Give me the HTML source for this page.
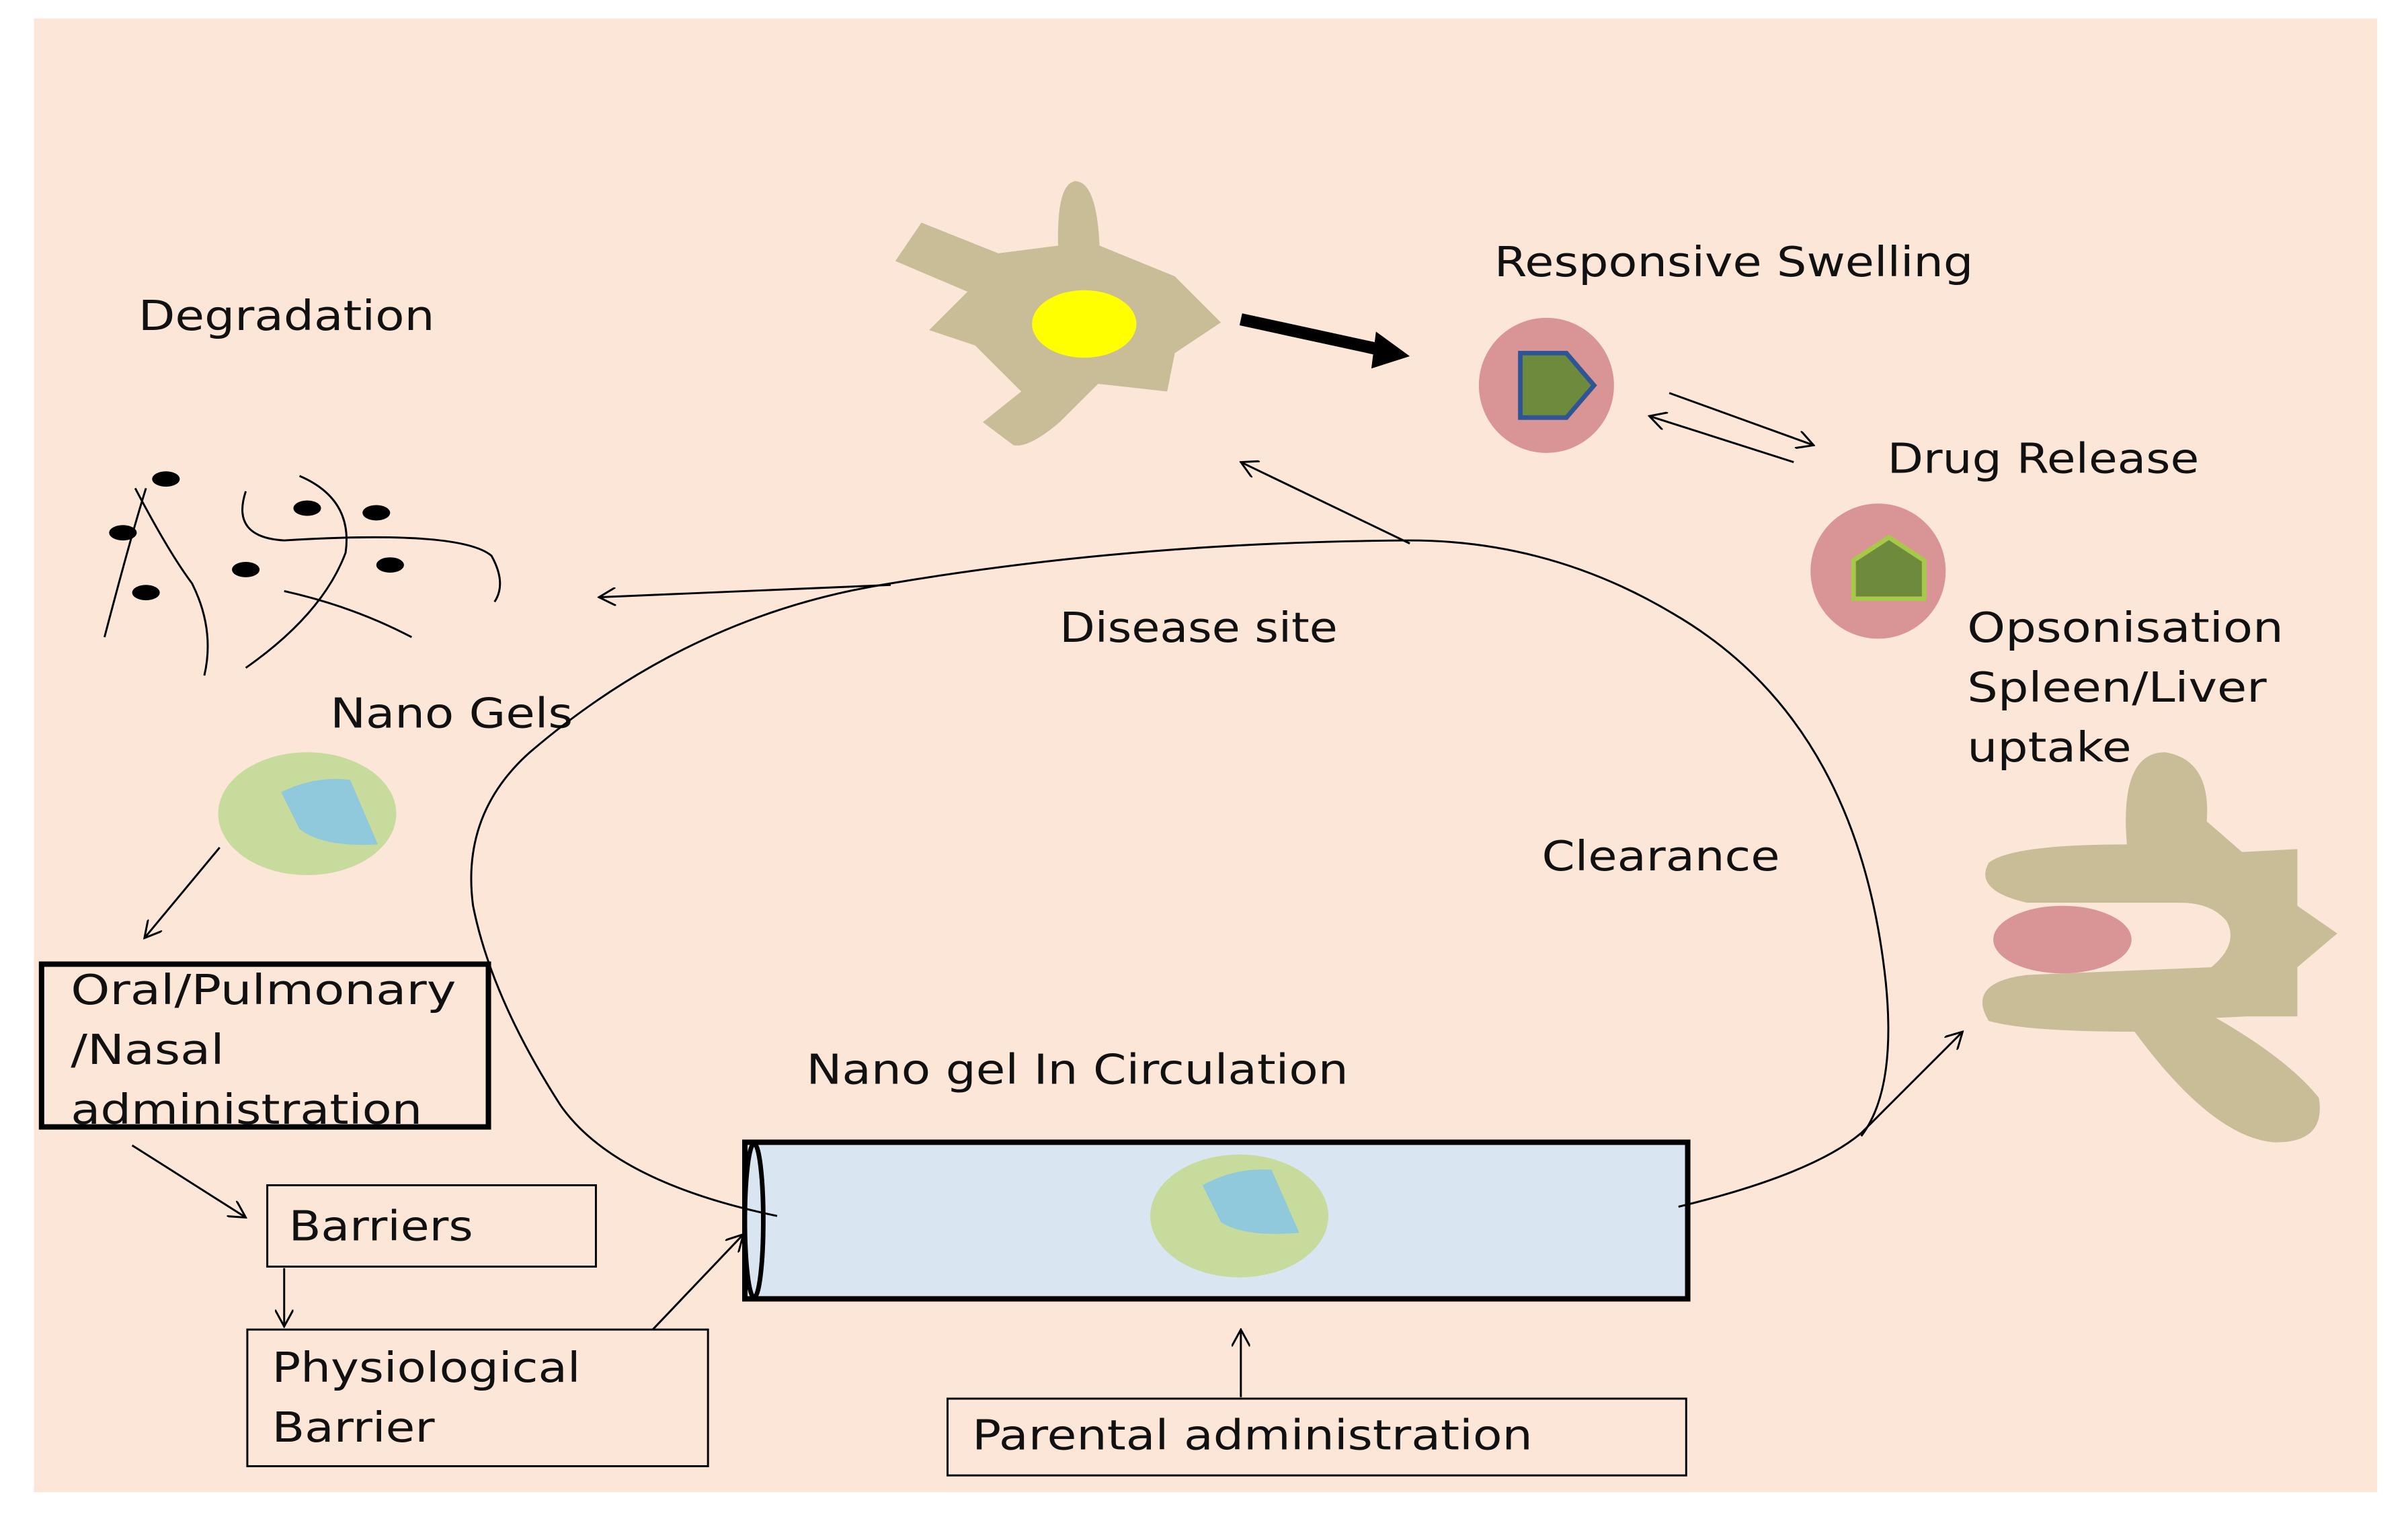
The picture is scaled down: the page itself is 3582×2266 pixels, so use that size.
<!DOCTYPE html>
<html><head><style>html,body{margin:0;padding:0;background:#fff}svg{display:block}</style></head>
<body>
<svg width="3582" height="2266" viewBox="0 0 1568 992" xmlns="http://www.w3.org/2000/svg" font-family="'DejaVu Sans', 'Liberation Sans', sans-serif">
<defs>
<marker id="a" viewBox="0 0 12 12" refX="11" refY="6" markerWidth="12" markerHeight="12" orient="auto" markerUnits="userSpaceOnUse"><path d="M0,0 L11,6 L0,12" fill="none" stroke="#000" stroke-width="1.3"/></marker>
</defs>
<rect x="0" y="0" width="1568" height="992" fill="#fff"/>
<rect x="22" y="12" width="1526" height="960" fill="#fce6d8"/>
<g font-size="27" fill="#111" lengthAdjust="spacingAndGlyphs">
<text x="90" y="215" textLength="193" lengthAdjust="spacingAndGlyphs">Degradation</text>
<text x="973" y="180" textLength="312" lengthAdjust="spacingAndGlyphs">Responsive Swelling</text>
<text x="1229" y="308" textLength="203" lengthAdjust="spacingAndGlyphs">Drug Release</text>
<text x="690" y="418" textLength="181" lengthAdjust="spacingAndGlyphs">Disease site</text>
<text x="1281" y="418" textLength="206" lengthAdjust="spacingAndGlyphs">Opsonisation</text>
<text x="1281" y="457" textLength="195" lengthAdjust="spacingAndGlyphs">Spleen/Liver</text>
<text x="1281" y="496" textLength="107" lengthAdjust="spacingAndGlyphs">uptake</text>
<text x="215" y="474" textLength="158" lengthAdjust="spacingAndGlyphs">Nano Gels</text>
<text x="1004" y="567" textLength="155" lengthAdjust="spacingAndGlyphs">Clearance</text>
<text x="525" y="706" textLength="353" lengthAdjust="spacingAndGlyphs">Nano gel In Circulation</text>
</g>
<!-- dendritic cell -->
<path d="M689,160 Q688,120 700,118 Q714,118 716,160 L765,180 L795,210 L765,230 L760,255 L715,250 L690,275 Q670,292 660,290 L640,275 L665,255 L635,225 L605,215 L630,190 L583,170 L600,145 L650,165 Z" fill="#c8bd97"/>
<ellipse cx="706" cy="211" rx="34" ry="22" fill="#ffff00"/>
<line x1="808" y1="208" x2="900" y2="228" stroke="#000" stroke-width="8"/>
<polygon points="918,232 896,216 893,240" fill="#000"/>
<!-- responsive swelling -->
<circle cx="1007" cy="251" r="44" fill="#d99595"/>
<polygon points="990,230 1020,230 1038,251 1020,272 990,272" fill="#6e8b3d" stroke="#2f5597" stroke-width="3"/>
<line x1="1087" y1="256" x2="1181" y2="290" stroke="#000" stroke-width="1.3" marker-end="url(#a)"/>
<line x1="1168" y1="301" x2="1074" y2="271" stroke="#000" stroke-width="1.3" marker-end="url(#a)"/>
<circle cx="1223" cy="372" r="44" fill="#d99595"/>
<polygon points="1207,390 1207,365 1230,350 1253,365 1253,390" fill="#6e8b3d" stroke="#a8c84a" stroke-width="3"/>
<!-- degradation -->
<g fill="none" stroke="#000" stroke-width="1.3">
<path d="M68,415 Q85,350 95,318"/>
<path d="M88,318 Q110,360 125,380 Q140,410 133,440"/>
<path d="M160,320 Q150,350 185,352 Q300,345 320,362 Q330,380 322,392"/>
<path d="M195,310 Q230,325 225,360 Q210,400 160,435"/>
<path d="M185,385 Q230,395 268,415"/>
</g>
<g fill="#000">
<ellipse cx="108" cy="312" rx="9" ry="5"/><ellipse cx="80" cy="347" rx="9" ry="5"/>
<ellipse cx="95" cy="386" rx="9" ry="5"/><ellipse cx="200" cy="331" rx="9" ry="5"/>
<ellipse cx="245" cy="334" rx="9" ry="5"/><ellipse cx="160" cy="371" rx="9" ry="5"/>
<ellipse cx="254" cy="368" rx="9" ry="5"/>
</g>
<!-- nano gel -->
<ellipse cx="200" cy="530" rx="58" ry="40" fill="#c6db9c"/>
<path d="M183,516 Q205,505 228,508 L246,550 Q210,552 195,540 Z" fill="#90c8dc"/>
<line x1="143" y1="552" x2="94" y2="611" stroke="#000" stroke-width="1.3" marker-end="url(#a)"/>
<!-- boxes -->
<rect x="27" y="628" width="291" height="106" fill="none" stroke="#000" stroke-width="3.5"/>
<g font-size="27" fill="#111">
<text x="46" y="654" textLength="251" lengthAdjust="spacingAndGlyphs">Oral/Pulmonary</text>
<text x="46" y="693" textLength="100" lengthAdjust="spacingAndGlyphs">/Nasal</text>
<text x="46" y="732" textLength="229" lengthAdjust="spacingAndGlyphs">administration</text>
</g>
<line x1="86" y1="746" x2="160" y2="793" stroke="#000" stroke-width="1.3" marker-end="url(#a)"/>
<rect x="174" y="772" width="214" height="53" fill="none" stroke="#000" stroke-width="1.3"/>
<text x="188" y="808" font-size="27" fill="#111" textLength="120" lengthAdjust="spacingAndGlyphs">Barriers</text>
<line x1="185" y1="826" x2="185" y2="864" stroke="#000" stroke-width="1.3" marker-end="url(#a)"/>
<rect x="161" y="866" width="300" height="89" fill="none" stroke="#000" stroke-width="1.3"/>
<text x="177" y="900" font-size="27" fill="#111" textLength="201" lengthAdjust="spacingAndGlyphs">Physiological</text>
<text x="177" y="939" font-size="27" fill="#111" textLength="106" lengthAdjust="spacingAndGlyphs">Barrier</text>
<line x1="425" y1="866" x2="484" y2="804" stroke="#000" stroke-width="1.3" marker-end="url(#a)"/>
<rect x="617" y="911" width="481" height="50" fill="none" stroke="#000" stroke-width="1.3"/>
<text x="633" y="944" font-size="27" fill="#111" textLength="365" lengthAdjust="spacingAndGlyphs">Parental administration</text>
<line x1="808" y1="910" x2="808" y2="866" stroke="#000" stroke-width="1.3" marker-end="url(#a)"/>
<!-- tube -->
<rect x="485" y="744" width="614" height="102" fill="#dae5f2" stroke="#000" stroke-width="3.5"/>
<ellipse cx="491" cy="795" rx="6" ry="50" fill="#dae5f2" stroke="#000" stroke-width="3"/>
<ellipse cx="807" cy="792" rx="58" ry="40" fill="#c6db9c"/>
<path d="M783,772 Q805,760 828,762 L846,803 Q810,806 795,796 Z" fill="#90c8dc"/>
<!-- loop -->
<g fill="none" stroke="#000" stroke-width="1.3">
<path d="M506,792 Q400,770 365,720 Q320,650 308,590 Q300,530 345,490 Q450,400 580,380 Q740,353 918,352 Q1010,352 1090,400 Q1210,470 1228,640 Q1235,710 1212,740"/>
<path d="M1093,786 Q1180,765 1212,738"/>
</g>
<line x1="580" y1="381" x2="390" y2="389" stroke="#000" stroke-width="1.3" marker-end="url(#a)"/>
<line x1="918" y1="354" x2="808" y2="301" stroke="#000" stroke-width="1.3" marker-end="url(#a)"/>
<line x1="1212" y1="738" x2="1278" y2="672" stroke="#000" stroke-width="1.3" marker-end="url(#a)"/>
<!-- macrophage -->
<path d="M1385,550 Q1380,490 1410,490 Q1440,495 1437,535 L1460,555 L1496,553 L1496,590 L1522,608 L1496,630 L1496,662 L1463,662 L1443,663 Q1490,690 1510,715 Q1515,745 1480,744 Q1440,740 1390,672 Q1320,672 1295,665 Q1280,640 1320,635 L1440,630 Q1458,615 1450,600 Q1440,588 1420,588 L1320,588 Q1285,580 1295,562 Q1310,550 1385,550 Z" fill="#c8bd97"/>
<ellipse cx="1343" cy="612" rx="45" ry="22" fill="#d99595"/>
</svg>
</body></html>
